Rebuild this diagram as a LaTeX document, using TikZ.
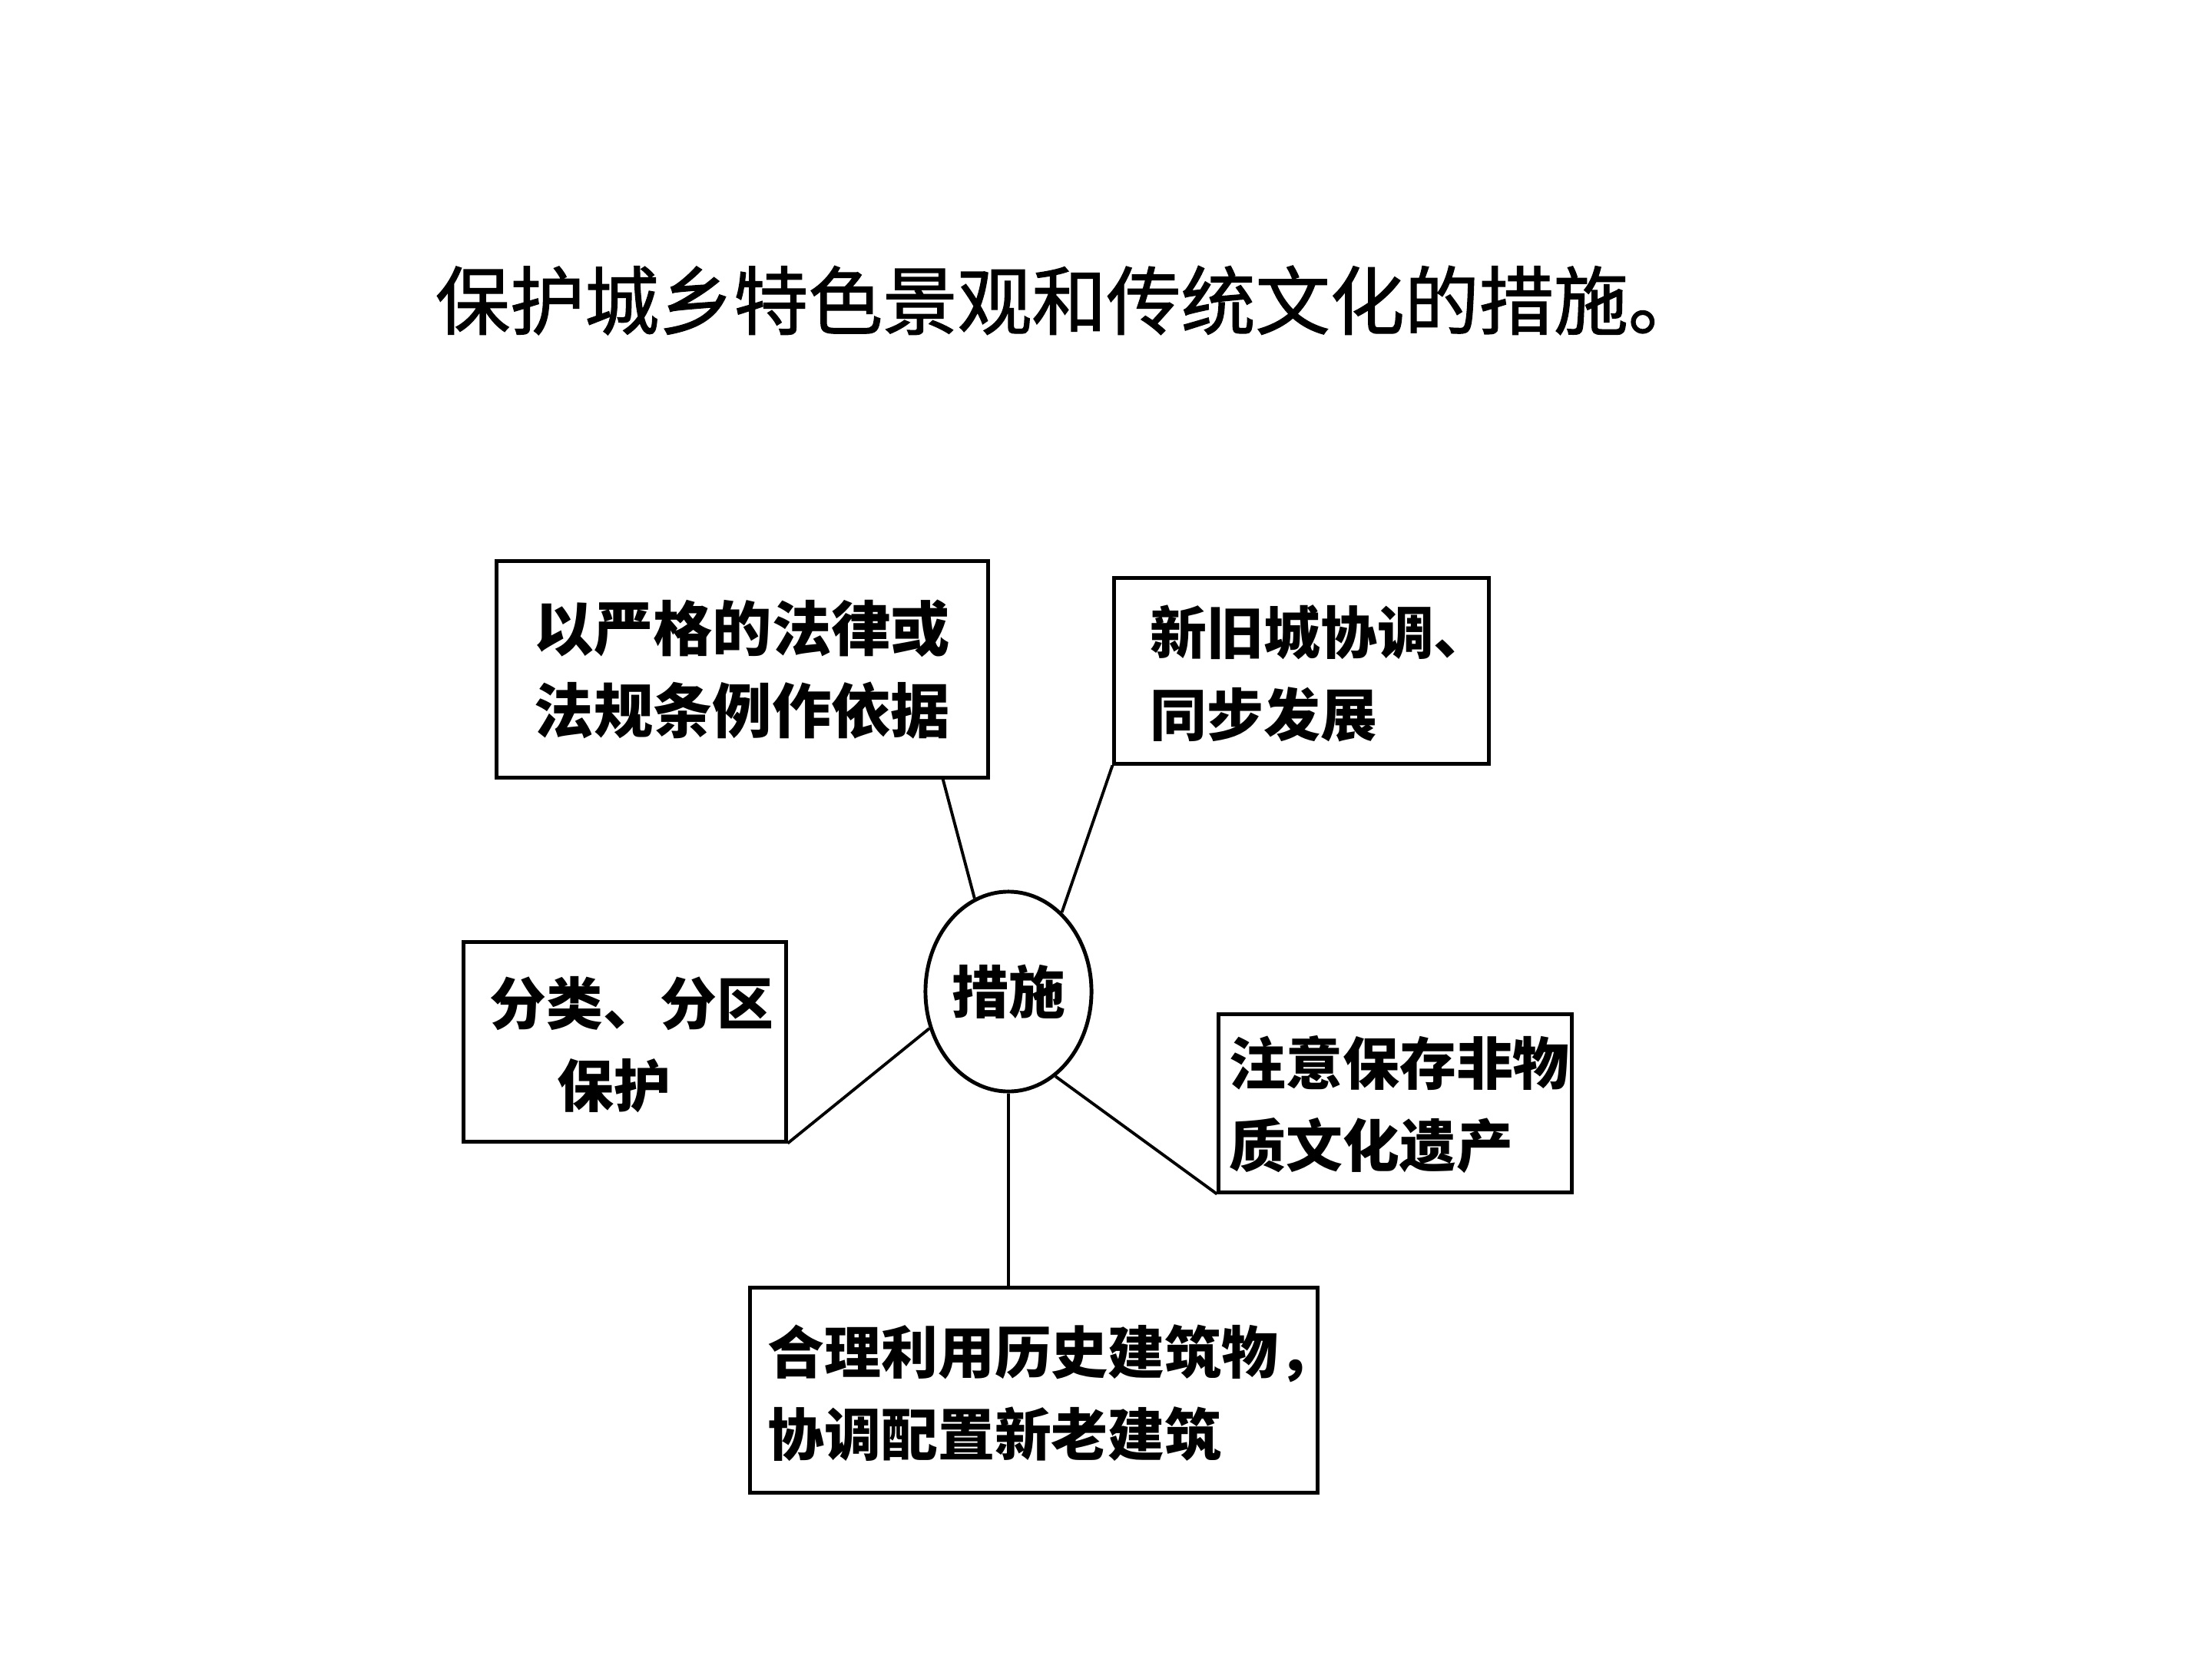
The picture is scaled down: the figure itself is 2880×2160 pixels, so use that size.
\documentclass[tikz,border=0pt]{standalone}
\usepackage{fontspec}
\newfontfamily\cjk{Noto Sans CJK SC}
\newfontfamily\cjktitle[FakeBold=1.3]{Noto Sans CJK SC}
\usetikzlibrary{shapes.geometric}
\begin{document}
\begin{tikzpicture}[x=0.01cm,y=-0.01cm,
  boxst/.style={draw=black,line width=1.4pt,rectangle,inner sep=0pt},
  txt/.style={font=\cjk\bfseries\fontsize{21}{30.4}\selectfont,align=left,inner sep=0pt},
  conn/.style={draw=black,line width=1.1pt}]
\useasboundingbox (0,0) rectangle (2880,2160);
\node[font=\cjktitle\fontsize{27.6}{33}\selectfont,inner sep=0pt] (title) at (1392,391) {保护城乡特色景观和传统文化的措施。};
% boxes
\node[boxst,minimum width=6.39cm,minimum height=2.81cm] (b1) at (966.5,871.5) {};
\node[boxst,minimum width=4.87cm,minimum height=2.41cm] (b2) at (1694.5,873.5) {};
\node[boxst,minimum width=4.19cm,minimum height=2.59cm] (b3) at (813.5,1356.5) {};
\node[boxst,minimum width=4.59cm,minimum height=2.31cm] (b4) at (1816.5,1436.5) {};
\node[boxst,minimum width=7.38cm,minimum height=2.66cm] (b5) at (1346,1810) {};
\node[draw=black,line width=1.4pt,ellipse,minimum width=2.16cm,minimum height=2.6cm,inner sep=0pt] (c) at (1313,1291) {};
% texts
\node[txt,font=\cjk\bfseries\fontsize{22}{30.4}\selectfont] (t1) at (b1.center) {以严格的法律或\\法规条例作依据};
\node[txt,anchor=west] (t2) at (1497,877) {新旧城协调、\\同步发展};
\node[txt,anchor=west] (t3) at (637,1360) {分类、分区\\\hspace*{0.88cm}保护};
\node[txt,anchor=west] (t4) at (1600,1438) {注意保存非物\\质文化遗产};
\node[txt,anchor=west] (t5) at (999,1814) {合理利用历史建筑物，\\协调配置新老建筑};
\node[txt] (tc) at (c.center) {措施};
% connectors
\coordinate (p1) at (1227,1012);
\draw[conn] (p1) -- (c.110);
\draw[conn] (b2.south west) -- (c.56);
\draw[conn] (b3.south east) -- (c.205);
\draw[conn] (b4.south west) -- (c.299);
\draw[conn] (c.south) -- (c.south |- b5.north);
\end{tikzpicture}
\end{document}
